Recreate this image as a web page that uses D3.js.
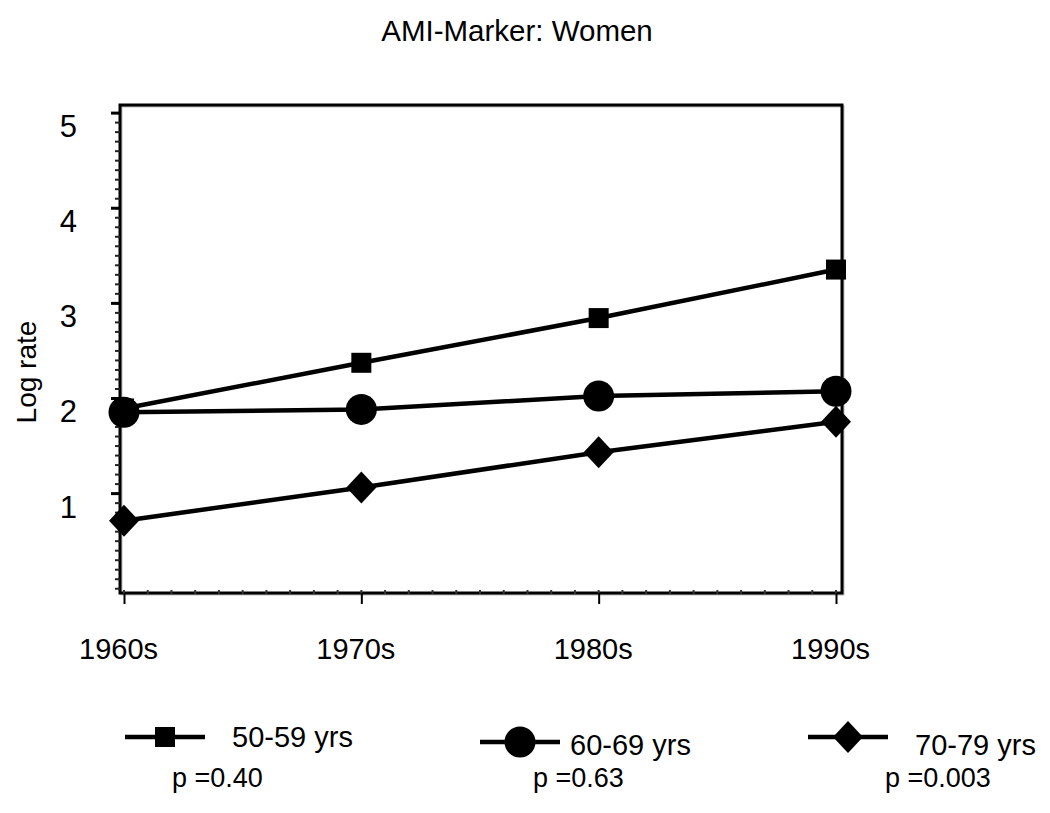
<!DOCTYPE html>
<html>
<head>
<meta charset="utf-8">
<script src="https://cdn.jsdelivr.net/npm/d3@7"></script>
<style>
  body { margin: 0; background: #fff; }
  text { font-family: "Liberation Sans", Arial, sans-serif; fill: #000; }
</style>
</head>
<body>
<div id="chart"></div>
<script>
// Data
var decades = ["1960s", "1970s", "1980s", "1990s"];
var seriesNames = ["50-59 yrs", "60-69 yrs", "70-79 yrs"];
var pValues = ["p =0.40", "p =0.63", "p =0.003"];
var age5059 = [1.89, 2.37, 2.84, 3.35];
var age6069 = [1.85, 1.88, 2.02, 2.07];
var age7079 = [0.71, 1.06, 1.43, 1.75];
var yTicks = [1, 2, 3, 4, 5];

var width = 1050, height = 813;
var frame = {left: 120, right: 842, top: 105, bottom: 593};

var svg = d3.select("#chart").append("svg")
    .attr("width", width)
    .attr("height", height);

// Scales
var x = d3.scalePoint()
    .domain(decades)
    .range([124, 836]);
var y = d3.scaleLinear()
    .domain([-0.05, 5.08])
    .range([frame.bottom, frame.top]);

// Title
svg.append("text")
    .attr("x", 517).attr("y", 41)
    .attr("text-anchor", "middle")
    .style("font-size", "29.5px")
    .text("AMI-Marker: Women");

// Frame shadow + frame
svg.append("rect")
    .attr("x", frame.left + 1.5).attr("y", frame.top + 1.5)
    .attr("width", frame.right - frame.left).attr("height", frame.bottom - frame.top)
    .attr("fill", "none").attr("stroke", "#bbb").attr("stroke-width", 2);
svg.append("rect")
    .attr("x", frame.left).attr("y", frame.top)
    .attr("width", frame.right - frame.left).attr("height", frame.bottom - frame.top)
    .attr("fill", "none").attr("stroke", "#000").attr("stroke-width", 3);

// Y axis minor ticks
svg.append("g")
    .attr("transform", "translate(" + frame.left + ",0)")
    .call(d3.axisLeft(y).tickValues(d3.range(0, 51).map(function(i) { return i / 10; }))
      .tickSize(5).tickFormat(""))
    .call(function(g) { g.select(".domain").remove(); })
    .selectAll("line").attr("stroke", "#222").attr("stroke-width", 2);

// Y axis major ticks (labels sit a little below the tick, as in the original)
var yAxis = svg.append("g")
    .attr("transform", "translate(" + frame.left + ",0)")
    .call(d3.axisLeft(y).tickValues(yTicks).tickSize(9).tickPadding(34).tickFormat(d3.format("d")));
yAxis.select(".domain").remove();
yAxis.selectAll("line").attr("stroke", "#000").attr("stroke-width", 3);
yAxis.selectAll("text")
    .attr("dy", "0.32em")
    .attr("transform", "translate(0,14)")
    .style("font-size", "31px")
    .style("font-family", "'Liberation Sans', Arial, sans-serif");

// X axis minor marks along bottom
var xMinor = d3.scaleLinear().domain([0, 30]).range([124, 836]);
svg.append("g").selectAll("line")
    .data(d3.range(0, 31))
    .enter().append("line")
    .attr("x1", function(d) { return xMinor(d); })
    .attr("x2", function(d) { return xMinor(d); })
    .attr("y1", frame.bottom - 3).attr("y2", frame.bottom + 1)
    .attr("stroke", "#333").attr("stroke-width", 2);

// X axis
var xAxis = svg.append("g")
    .attr("transform", "translate(0," + frame.bottom + ")")
    .call(d3.axisBottom(x).tickSize(11).tickPadding(34));
xAxis.select(".domain").remove();
xAxis.selectAll("line").attr("stroke", "#000").attr("stroke-width", 2);
xAxis.selectAll("text")
    .attr("dx", "-6")
    .style("font-size", "29px")
    .style("font-family", "'Liberation Sans', Arial, sans-serif");

// Y axis title
svg.append("text")
    .attr("transform", "translate(36,372) rotate(-90)")
    .attr("text-anchor", "middle")
    .style("font-size", "28px")
    .text("Log rate");

// Marker drawing
function drawMarker(sel, shape) {
  if (shape === "square") {
    sel.append("rect").attr("x", -10).attr("y", -10).attr("width", 20).attr("height", 20).attr("fill", "#000");
  } else if (shape === "circle") {
    sel.append("circle").attr("r", 15.5).attr("fill", "#000");
  } else {
    sel.append("path").attr("d", "M0,-16L15,0L0,16L-15,0Z").attr("fill", "#000");
  }
}

var series = [
  {name: seriesNames[0], values: age5059, shape: "square"},
  {name: seriesNames[1], values: age6069, shape: "circle"},
  {name: seriesNames[2], values: age7079, shape: "diamond"}
];

var line = d3.line()
    .x(function(d, i) { return x(decades[i]); })
    .y(function(d) { return y(d); });

series.forEach(function(s) {
  svg.append("path")
      .datum(s.values)
      .attr("d", line)
      .attr("fill", "none")
      .attr("stroke", "#000")
      .attr("stroke-width", 4.5);
  s.values.forEach(function(v, i) {
    var g = svg.append("g").attr("transform", "translate(" + x(decades[i]) + "," + y(v) + ")");
    drawMarker(g, s.shape);
  });
});

// Legend
var legendX = [125, 480, 808];
var legendY = [737, 742, 737];
var legendTextX = [232, 570, 915];
var legendTextY = [747, 755, 755];
var pX = [172, 533, 885];

series.forEach(function(s, i) {
  svg.append("line")
      .attr("x1", legendX[i]).attr("x2", legendX[i] + 80)
      .attr("y1", legendY[i]).attr("y2", legendY[i])
      .attr("stroke", "#000").attr("stroke-width", 4.5);
  var g = svg.append("g").attr("transform", "translate(" + (legendX[i] + 40) + "," + legendY[i] + ")");
  drawMarker(g, s.shape);
  svg.append("text")
      .attr("x", legendTextX[i]).attr("y", legendTextY[i])
      .style("font-size", "29px")
      .text(s.name);
  svg.append("text")
      .attr("x", pX[i]).attr("y", 787)
      .style("font-size", "27px")
      .text(pValues[i]);
});
</script>
</body>
</html>
